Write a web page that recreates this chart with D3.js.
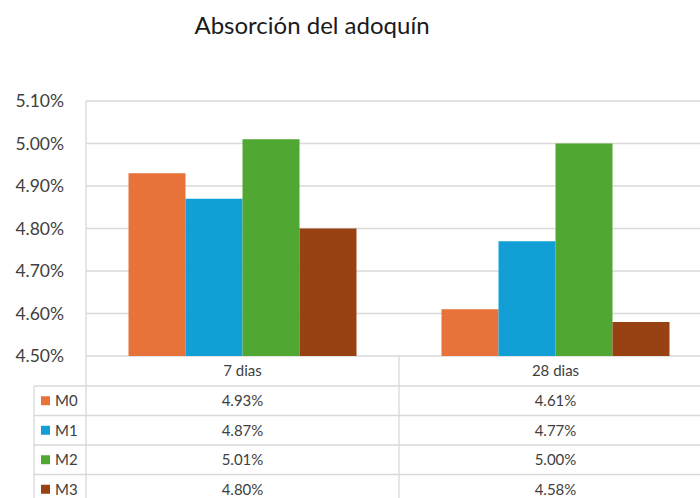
<!DOCTYPE html>
<html><head><meta charset="utf-8">
<script src="https://cdn.jsdelivr.net/npm/d3@7"></script>
<style>body{margin:0;background:#fff;overflow:hidden}svg{display:block}text{font-family:Lato,"Open Sans",sans-serif}</style>
</head><body>
<svg id="c" width="700" height="498"></svg>
<script>
const categories = ["7 dias", "28 dias"];
const series = ["M0", "M1", "M2", "M3"];
const M0 = [4.93, 4.61];
const M1 = [4.87, 4.77];
const M2 = [5.01, 5.00];
const M3 = [4.80, 4.58];
const yTicks = [4.5, 4.6, 4.7, 4.8, 4.9, 5.0, 5.1];
const colors = ["#E8733A", "#119FD6", "#50A832", "#984113"];
const values = [M0, M1, M2, M3];

(function () {
const svg = d3.select("#c");
const pLeft = 86, pRight = 712, pTop = 101, pBottom = 356;
const x = d3.scaleBand().domain(categories).range([pLeft, pRight]).padding(0);
const bw = x.bandwidth();
const xi = d3.scaleBand().domain(series).range([42.5, bw - 42.5]).padding(0);
const y = d3.scaleLinear().domain([4.5, 5.1]).range([pBottom, pTop]);

svg.append("text").attr("x", 312).attr("y", 34).attr("text-anchor", "middle")
  .attr("font-size", 24).attr("fill", "#1a1a1a").text("Absorción del adoquín");

svg.append("g").selectAll("line").data(yTicks).join("line")
  .attr("x1", pLeft).attr("x2", 700).attr("y1", d => y(d)).attr("y2", d => y(d))
  .attr("stroke", "#d9d9d9").attr("stroke-width", 1.3);
svg.append("line").attr("x1", pLeft).attr("x2", pLeft).attr("y1", pTop).attr("y2", pBottom)
  .attr("stroke", "#d9d9d9").attr("stroke-width", 1.3);

const yAxis = d3.axisLeft(y).tickValues(yTicks).tickFormat(d => d.toFixed(2) + "%").tickSize(0).tickPadding(0);
const ga = svg.append("g").attr("transform", "translate(64,0)").call(yAxis);
ga.select(".domain").remove();
ga.selectAll("text").attr("font-size", 17.5).attr("fill", "#404040").attr("font-family", "Lato");

series.forEach((s, si) => {
  svg.append("g").selectAll("rect").data(categories).join("rect")
    .attr("x", c => x(c) + xi(s)).attr("width", xi.bandwidth())
    .attr("y", (c, ci) => y(values[si][ci])).attr("height", (c, ci) => pBottom - y(values[si][ci]))
    .attr("fill", colors[si]);
});

const rowTop = [356, 386, 415.5, 445, 474.5];
const rowH = 29.5;
const lc = "#d9d9d9";
const tg = svg.append("g");
rowTop.forEach((ry, i) => {
  if (i === 0) return;
  tg.append("line").attr("x1", 34).attr("x2", 700).attr("y1", ry).attr("y2", ry).attr("stroke", lc).attr("stroke-width", 1.3);
});
tg.append("line").attr("x1", 34).attr("x2", 34).attr("y1", 386).attr("y2", 498).attr("stroke", lc).attr("stroke-width", 1.3);
tg.append("line").attr("x1", pLeft).attr("x2", pLeft).attr("y1", 356).attr("y2", 498).attr("stroke", lc).attr("stroke-width", 1.3);
categories.forEach(c => {
  tg.append("line").attr("x1", x(c) + bw).attr("x2", x(c) + bw).attr("y1", 356).attr("y2", 498).attr("stroke", lc).attr("stroke-width", 1.3);
});
tg.selectAll("text.h").data(categories).join("text").attr("class", "h")
  .attr("x", c => x(c) + bw / 2).attr("y", 371).attr("dy", "0.35em").attr("text-anchor", "middle")
  .attr("font-size", 15).attr("fill", "#404040").text(c => c);
series.forEach((s, si) => {
  const cy = rowTop[si + 1] + rowH / 2;
  tg.append("rect").attr("x", 41).attr("y", cy - 4.5).attr("width", 9).attr("height", 9).attr("fill", colors[si]);
  tg.append("text").attr("x", 55).attr("y", cy).attr("dy", "0.35em").attr("font-size", 15).attr("fill", "#404040").text(s);
  tg.selectAll(null).data(categories).join("text")
    .attr("x", c => x(c) + bw / 2).attr("y", cy).attr("dy", "0.35em").attr("text-anchor", "middle")
    .attr("font-size", 15).attr("fill", "#404040").text((c, ci) => values[si][ci].toFixed(2) + "%");
});
})();
</script>
</body></html>
